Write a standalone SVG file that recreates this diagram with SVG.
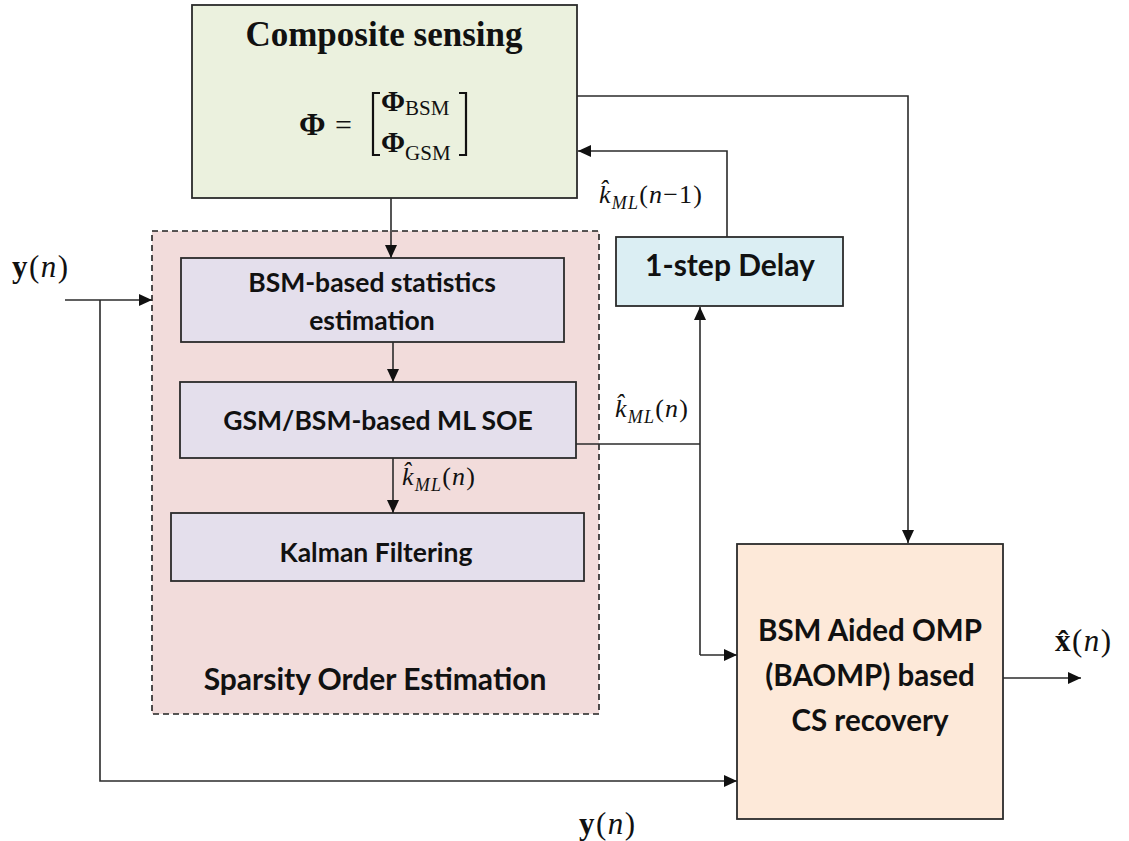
<svg xmlns="http://www.w3.org/2000/svg" width="1129" height="841" viewBox="0 0 1129 841">
<style>
.box{stroke:#2b2b2b;stroke-width:1.8}
.lbl{font-family:Lato,"Open Sans","Liberation Sans",sans-serif;font-weight:bold;fill:#111;text-anchor:middle}
.math{font-family:"Liberation Serif","DejaVu Serif",serif;fill:#111}
.conn{fill:none;stroke:#2b2b2b;stroke-width:1.6}
</style>
<defs>
<marker id="arr" markerUnits="userSpaceOnUse" markerWidth="14" markerHeight="12" refX="13" refY="6" orient="auto">
<path d="M0,0 L13,6 L0,12 Z" fill="#111"/>
</marker>
</defs>
<rect width="1129" height="841" fill="#fff"/>

<g id="soe-group">
<rect x="152" y="231" width="447" height="483" fill="#f2dcdb" stroke="#222" stroke-width="1.6" stroke-dasharray="6,4"/>
<text class="lbl" x="375" y="690" font-size="30">Sparsity Order Estimation</text>
</g>

<g id="composite">
<rect class="box" x="192" y="5" width="385" height="193" fill="#ebf1de"/>
<text x="384" y="46" font-family="'Liberation Serif','DejaVu Serif',serif" font-weight="bold" font-size="35" text-anchor="middle" fill="#111">Composite sensing</text>
<text class="math" x="299" y="135" font-size="32" font-weight="bold">Φ</text>
<text class="math" x="335" y="135" font-size="30">=</text>
<path d="M380,93 H373 V155 H380 M459,93 H466 V155 H459" fill="none" stroke="#111" stroke-width="2.2"/>
<text class="math" x="381" y="111" font-size="29" font-weight="bold">Φ<tspan font-size="21" font-weight="normal" dy="4">BSM</tspan></text>
<text class="math" x="381" y="152" font-size="29" font-weight="bold">Φ<tspan font-size="21" font-weight="normal" dy="8">GSM</tspan></text>
</g>

<g id="bsm-stats">
<rect class="box" x="181" y="258" width="383" height="84" fill="#e4dfec"/>
<text class="lbl" x="372" y="292" font-size="26.5">BSM-based statistics</text>
<text class="lbl" x="372" y="330" font-size="26.5">estimation</text>
</g>

<g id="ml-soe">
<rect class="box" x="180" y="382" width="396" height="76" fill="#e4dfec"/>
<text class="lbl" x="378" y="430" font-size="26.5">GSM/BSM-based ML SOE</text>
</g>

<g id="kalman">
<rect class="box" x="171" y="513" width="413" height="68" fill="#e4dfec"/>
<text class="lbl" x="376" y="562" font-size="26.5">Kalman Filtering</text>
</g>

<g id="delay">
<rect class="box" x="616" y="237" width="227" height="69" fill="#dbeef3"/>
<text class="lbl" x="730" y="276" font-size="30">1-step Delay</text>
</g>

<g id="baomp">
<rect class="box" x="737" y="544" width="266" height="275" fill="#fde9d9"/>
<text class="lbl" x="870" y="641" font-size="29.5">BSM Aided OMP</text>
<text class="lbl" x="870" y="686" font-size="29.5">(BAOMP) based</text>
<text class="lbl" x="870" y="731" font-size="29.5">CS recovery</text>
</g>

<g id="connectors">
<path class="conn" d="M577,96 H908 V543" marker-end="url(#arr)"/>
<path class="conn" d="M727,237 V151 H578" marker-end="url(#arr)"/>
<path class="conn" d="M391,198 V258" marker-end="url(#arr)"/>
<path class="conn" d="M393,342 V382" marker-end="url(#arr)"/>
<path class="conn" d="M393,458 V513" marker-end="url(#arr)"/>
<path class="conn" d="M576,444 H700"/>
<path class="conn" d="M700,655 V307" marker-end="url(#arr)"/>
<path class="conn" d="M700,655 H737" marker-end="url(#arr)"/>
<path class="conn" d="M65,300 H152" marker-end="url(#arr)"/>
<path class="conn" d="M100,300 V781 H737" marker-end="url(#arr)"/>
<path class="conn" d="M1003,678 H1081" marker-end="url(#arr)"/>
</g>

<g id="labels">
<text class="math" x="12" y="277" font-size="31" letter-spacing="1.5"><tspan font-weight="bold">y</tspan>(<tspan font-style="italic">n</tspan>)</text>
<text class="math" x="579" y="834" font-size="31" letter-spacing="1.5"><tspan font-weight="bold">y</tspan>(<tspan font-style="italic">n</tspan>)</text>
<text class="math" x="1055" y="651" font-size="31" letter-spacing="1.5"><tspan font-weight="bold">x̂</tspan>(<tspan font-style="italic">n</tspan>)</text>
<text class="math" x="599" y="203" font-size="26" letter-spacing="1.2"><tspan font-style="italic">k̂</tspan><tspan font-style="italic" font-size="18" dy="6">ML</tspan><tspan dy="-6">(</tspan><tspan font-style="italic">n</tspan>−1)</text>
<text class="math" x="615" y="417" font-size="26" letter-spacing="1.2"><tspan font-style="italic">k̂</tspan><tspan font-style="italic" font-size="18" dy="6">ML</tspan><tspan dy="-6">(</tspan><tspan font-style="italic">n</tspan>)</text>
<text class="math" x="402" y="485" font-size="26" letter-spacing="1.2"><tspan font-style="italic">k̂</tspan><tspan font-style="italic" font-size="18" dy="6">ML</tspan><tspan dy="-6">(</tspan><tspan font-style="italic">n</tspan>)</text>
</g>
</svg>
